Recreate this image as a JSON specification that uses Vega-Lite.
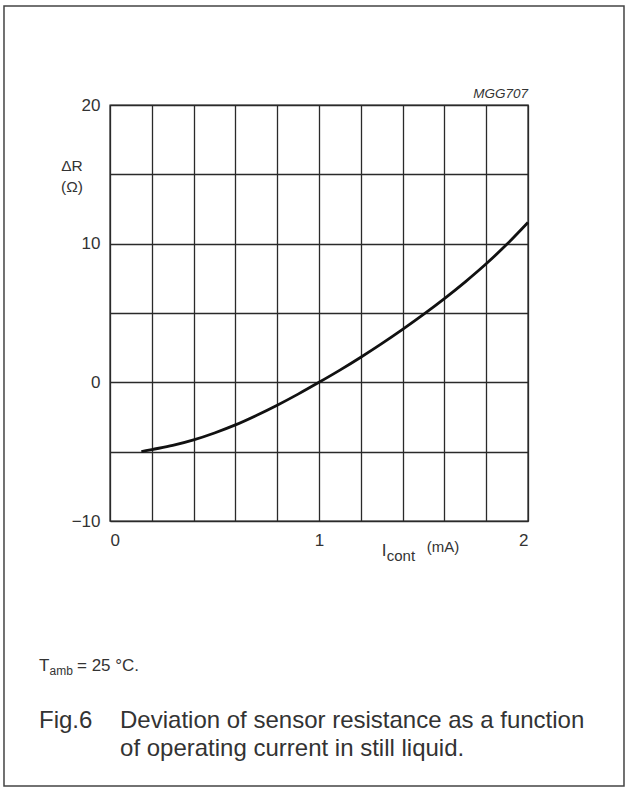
{
  "$schema": "https://vega.github.io/schema/vega-lite/v6.json",
  "width": 418,
  "height": 416,
  "autosize": {"type": "none"},
  "padding": {"left": 110, "top": 105, "right": 97, "bottom": 268},
  "background": "white",
  "config": {
    "view": {"stroke": "#2a2a2a", "strokeWidth": 1.4},
    "font": "Liberation Sans",
    "text": {"color": "#333", "baseline": "alphabetic", "align": "left", "clip": false},
    "axis": {
      "grid": true, "gridColor": "#2a2a2a", "gridWidth": 1.3, "gridOpacity": 1,
      "ticks": false, "domain": false,
      "labelFont": "Liberation Sans", "labelFontSize": 17, "labelColor": "#333",
      "labelPadding": 10, "title": null
    }
  },
  "layer": [
    {
      "data": {"values": [
        {"I": 0.15, "dR": -5.0},
        {"I": 0.2, "dR": -4.85},
        {"I": 0.3, "dR": -4.55},
        {"I": 0.4, "dR": -4.15},
        {"I": 0.5, "dR": -3.65},
        {"I": 0.6, "dR": -3.07},
        {"I": 0.7, "dR": -2.39},
        {"I": 0.8, "dR": -1.65},
        {"I": 0.9, "dR": -0.85},
        {"I": 1.0, "dR": 0.0},
        {"I": 1.1, "dR": 0.88},
        {"I": 1.2, "dR": 1.81},
        {"I": 1.3, "dR": 2.79},
        {"I": 1.4, "dR": 3.82},
        {"I": 1.5, "dR": 4.9},
        {"I": 1.6, "dR": 6.04},
        {"I": 1.7, "dR": 7.25},
        {"I": 1.8, "dR": 8.55},
        {"I": 1.9, "dR": 9.97},
        {"I": 2.0, "dR": 11.53}
      ]},
      "mark": {"type": "line", "interpolate": "monotone", "color": "#111", "strokeWidth": 2.8, "clip": false},
      "encoding": {
        "x": {"field": "I", "type": "quantitative",
          "scale": {"domain": [0, 2], "nice": false, "zero": false},
          "axis": {"values": [0, 0.2, 0.4, 0.6, 0.8, 1, 1.2, 1.4, 1.6, 1.8, 2], "format": "~g",
            "labelExpr": "datum.value == 0 || datum.value == 1 || datum.value == 2 ? datum.label : ''",
            "labelBaseline": "top", "labelPadding": 11}},
        "y": {"field": "dR", "type": "quantitative",
          "scale": {"domain": [-10, 20], "nice": false, "zero": false},
          "axis": {"values": [-10, -5, 0, 5, 10, 15, 20], "format": "~g",
            "labelExpr": "datum.value == -10 || datum.value == 0 || datum.value == 10 || datum.value == 20 ? datum.label : ''",
            "labelBaseline": "middle", "labelPadding": 10}}
      }
    },
    {
      "data": {"values": [{"t": "frame"}]},
      "mark": {"type": "rect", "fill": "transparent", "stroke": "#444", "strokeWidth": 1.5, "clip": false},
      "encoding": {
        "x": {"datum": -0.5072, "type": "quantitative"}, "x2": {"datum": 2.4593},
        "y": {"datum": 27.14, "type": "quantitative"}, "y2": {"datum": -29.11}
      }
    },
    {
      "data": {"values": [{"t": "MGG707"}]},
      "mark": {"type": "text", "align": "right", "dy": -7, "fontSize": 13.5, "fontStyle": "italic"},
      "encoding": {"x": {"datum": 2, "type": "quantitative"}, "y": {"datum": 20, "type": "quantitative"}, "text": {"field": "t", "type": "nominal"}}
    },
    {
      "data": {"values": [{"t": "ΔR"}]},
      "mark": {"type": "text", "align": "center", "fontSize": 15.5},
      "encoding": {"x": {"datum": -0.1818, "type": "quantitative"}, "y": {"datum": 15.24, "type": "quantitative"}, "text": {"field": "t", "type": "nominal"}}
    },
    {
      "data": {"values": [{"t": "(Ω)"}]},
      "mark": {"type": "text", "align": "center", "fontSize": 15.5, "dy": 21},
      "encoding": {"x": {"datum": -0.1818, "type": "quantitative"}, "y": {"datum": 15.24, "type": "quantitative"}, "text": {"field": "t", "type": "nominal"}}
    },
    {
      "data": {"values": [{"t": "I"}]},
      "mark": {"type": "text", "dy": 35, "fontSize": 17},
      "encoding": {"x": {"datum": 1.3, "type": "quantitative"}, "y": {"datum": -10, "type": "quantitative"}, "text": {"field": "t", "type": "nominal"}}
    },
    {
      "data": {"values": [{"t": "cont"}]},
      "mark": {"type": "text", "dx": 5, "dy": 40, "fontSize": 15},
      "encoding": {"x": {"datum": 1.3, "type": "quantitative"}, "y": {"datum": -10, "type": "quantitative"}, "text": {"field": "t", "type": "nominal"}}
    },
    {
      "data": {"values": [{"t": "(mA)"}]},
      "mark": {"type": "text", "dx": 45, "dy": 31, "fontSize": 15},
      "encoding": {"x": {"datum": 1.3, "type": "quantitative"}, "y": {"datum": -10, "type": "quantitative"}, "text": {"field": "t", "type": "nominal"}}
    },
    {
      "data": {"values": [{"t": "T"}]},
      "mark": {"type": "text", "fontSize": 17},
      "encoding": {"x": {"datum": -0.3397, "type": "quantitative"}, "y": {"datum": -20.79, "type": "quantitative"}, "text": {"field": "t", "type": "nominal"}}
    },
    {
      "data": {"values": [{"t": "amb"}]},
      "mark": {"type": "text", "dx": 10.5, "dy": 4, "fontSize": 12},
      "encoding": {"x": {"datum": -0.3397, "type": "quantitative"}, "y": {"datum": -20.79, "type": "quantitative"}, "text": {"field": "t", "type": "nominal"}}
    },
    {
      "data": {"values": [{"t": "= 25 °C."}]},
      "mark": {"type": "text", "dx": 38, "fontSize": 17},
      "encoding": {"x": {"datum": -0.3397, "type": "quantitative"}, "y": {"datum": -20.79, "type": "quantitative"}, "text": {"field": "t", "type": "nominal"}}
    },
    {
      "data": {"values": [{"t": "Fig.6"}]},
      "mark": {"type": "text", "fontSize": 24},
      "encoding": {"x": {"datum": -0.3397, "type": "quantitative"}, "y": {"datum": -24.9, "type": "quantitative"}, "text": {"field": "t", "type": "nominal"}}
    },
    {
      "data": {"values": [{"t": "Deviation of sensor resistance as a function"}]},
      "mark": {"type": "text", "fontSize": 24},
      "encoding": {"x": {"datum": 0.048, "type": "quantitative"}, "y": {"datum": -24.9, "type": "quantitative"}, "text": {"field": "t", "type": "nominal"}}
    },
    {
      "data": {"values": [{"t": "of operating current in still liquid."}]},
      "mark": {"type": "text", "fontSize": 24, "dy": 28},
      "encoding": {"x": {"datum": 0.048, "type": "quantitative"}, "y": {"datum": -24.9, "type": "quantitative"}, "text": {"field": "t", "type": "nominal"}}
    }
  ]
}
